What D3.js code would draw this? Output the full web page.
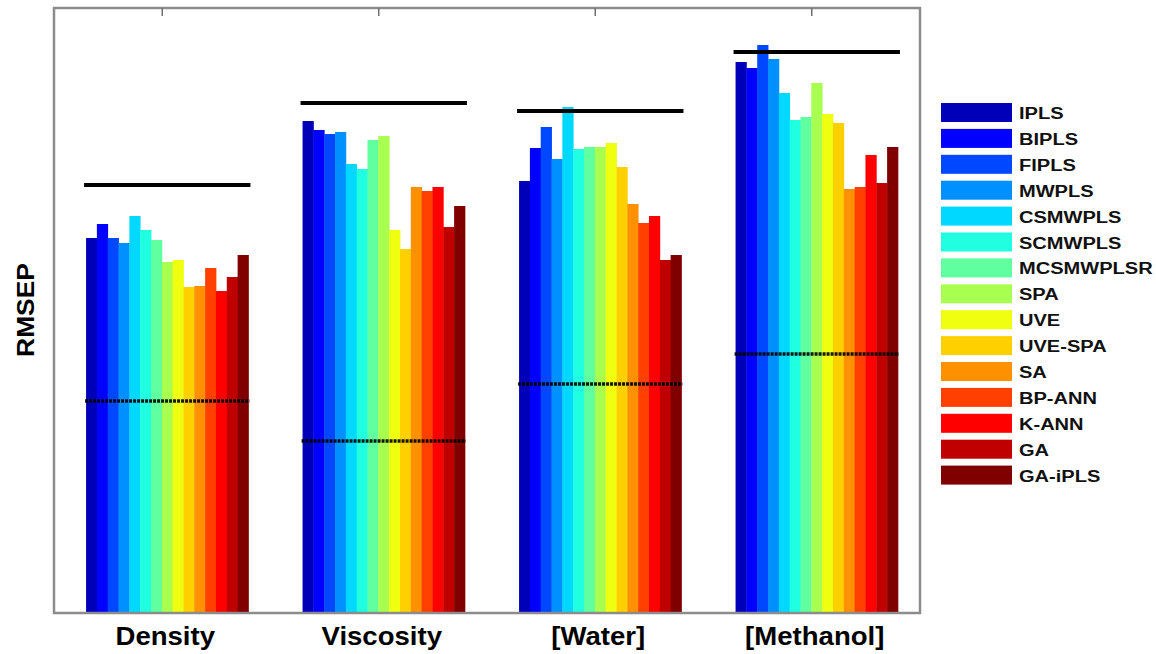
<!DOCTYPE html>
<html>
<head>
<meta charset="utf-8">
<script src="https://cdn.jsdelivr.net/npm/d3@7"></script>
<style>
  body { margin: 0; background: #fff; }
  text { font-family: "Liberation Sans", Arial, sans-serif; font-weight: bold; fill: #000; }
</style>
</head>
<body>
<div id="chart"></div>
<script>
// data
var groups = ['Density', 'Viscosity', '[Water]', '[Methanol]'];
var methods = ['IPLS', 'BIPLS', 'FIPLS', 'MWPLS', 'CSMWPLS', 'SCMWPLS', 'MCSMWPLSR', 'SPA', 'UVE', 'UVE-SPA', 'SA', 'BP-ANN', 'K-ANN', 'GA', 'GA-iPLS'];

var density   = [3.75, 3.89, 3.75, 3.70, 3.97, 3.83, 3.73, 3.51, 3.53, 3.26, 3.27, 3.45, 3.22, 3.36, 3.58];
var viscosity = [4.92, 4.83, 4.79, 4.81, 4.49, 4.44, 4.73, 4.77, 3.83, 3.64, 4.26, 4.22, 4.26, 3.86, 4.07];
var water     = [4.32, 4.65, 4.86, 4.54, 5.06, 4.64, 4.66, 4.66, 4.70, 4.46, 4.09, 3.90, 3.97, 3.53, 3.58];
var methanol  = [5.51, 5.45, 5.68, 5.54, 5.20, 4.93, 4.96, 5.30, 4.99, 4.90, 4.24, 4.26, 4.58, 4.30, 4.66];

// reference levels per group
var upper_ref = [4.28, 5.10, 5.02, 5.61];
var lower_ref = [2.12, 1.72, 2.29, 2.59];

var colors = ['#0000b8', '#0000ff', '#0048ff', '#0090ff', '#00d8ff', '#20ffe0', '#60ffa0', '#a8ff50',
              '#f0ff10', '#ffd000', '#ff9000', '#ff4000', '#ff0000', '#c00000', '#800000'];

var series = [density, viscosity, water, methanol];

var width = 1156, height = 654;
var plot = {left: 54, right: 920, top: 8, bottom: 613};

var svg = d3.select('#chart').append('svg')
    .attr('width', width)
    .attr('height', height);

var y = d3.scaleLinear().domain([0, 6.05]).range([plot.bottom, plot.top]);

// tick positions (axis) and bar positions (slightly shifted right, like the original)
var x_axis = d3.scaleBand().domain(groups).range([plot.left, plot.right]).paddingInner(0.25).paddingOuter(0.125);
var x0 = d3.scaleBand().domain(groups).range([plot.left + 5, plot.right + 5]).paddingInner(0.25).paddingOuter(0.125);
var x1 = d3.scaleBand().domain(methods).range([0, x0.bandwidth()]);

var color = d3.scaleOrdinal().domain(methods).range(colors);

// bars
var g = svg.selectAll('g.group')
    .data(groups)
    .enter().append('g')
    .attr('class', 'group')
    .attr('transform', function(d) { return 'translate(' + x0(d) + ',0)'; });

g.selectAll('rect')
    .data(function(d, i) {
        return series[i].map(function(v, j) { return {method: methods[j], value: v}; });
    })
    .enter().append('rect')
    .attr('x', function(d) { return x1(d.method); })
    .attr('width', x1.bandwidth() + 0.4)
    .attr('y', function(d) { return y(d.value); })
    .attr('height', function(d) { return plot.bottom - y(d.value); })
    .style('fill', function(d) { return color(d.method); });

// reference lines
g.append('line')
    .attr('x1', -2).attr('x2', x0.bandwidth() + 2)
    .attr('y1', function(d, i) { return y(upper_ref[i]); })
    .attr('y2', function(d, i) { return y(upper_ref[i]); })
    .attr('stroke', '#000')
    .attr('stroke-width', 4);

g.append('line')
    .attr('x1', -1).attr('x2', x0.bandwidth() + 1)
    .attr('y1', function(d, i) { return y(lower_ref[i]); })
    .attr('y2', function(d, i) { return y(lower_ref[i]); })
    .attr('stroke', '#000')
    .attr('stroke-width', 3.5)
    .attr('stroke-opacity', 0.9)
    .attr('stroke-dasharray', '3,1');

// frame
svg.append('rect')
    .attr('x', plot.left).attr('y', plot.top)
    .attr('width', plot.right - plot.left)
    .attr('height', plot.bottom - plot.top)
    .attr('fill', 'none')
    .attr('stroke', '#8c8c8c')
    .attr('stroke-width', 2.5);

// top ticks
svg.selectAll('line.tick')
    .data(groups)
    .enter().append('line')
    .attr('class', 'tick')
    .attr('x1', function(d) { return x_axis(d) + x_axis.bandwidth() / 2; })
    .attr('x2', function(d) { return x_axis(d) + x_axis.bandwidth() / 2; })
    .attr('y1', plot.top)
    .attr('y2', plot.top + 8)
    .attr('stroke', '#707070')
    .attr('stroke-width', 1.5);

// category labels
svg.selectAll('text.cat')
    .data(groups)
    .enter().append('text')
    .attr('class', 'cat')
    .attr('text-anchor', 'middle')
    .attr('transform', function(d) {
        return 'translate(' + (x_axis(d) + x_axis.bandwidth() / 2 + 3) + ',645) scale(1.06,1)';
    })
    .style('font-size', '26px')
    .text(function(d) { return d; });

// y label
svg.append('text')
    .attr('text-anchor', 'middle')
    .attr('transform', 'translate(34,310) rotate(-90) scale(1.1,1)')
    .style('font-size', '24px')
    .text('RMSEP');

// legend
var legend = svg.append('g').attr('transform', 'translate(941,103)');
var item = legend.selectAll('g.item')
    .data(methods)
    .enter().append('g')
    .attr('class', 'item')
    .attr('transform', function(d, i) { return 'translate(0,' + (i * 25.9) + ')'; });

item.append('rect')
    .attr('width', 71)
    .attr('height', 19)
    .style('fill', function(d) { return color(d); });

item.append('text')
    .attr('transform', 'translate(78,16) scale(1.18,1)')
    .style('font-size', '17px')
    .style('fill', '#111')
    .text(function(d) { return d; });
</script>
</body>
</html>
